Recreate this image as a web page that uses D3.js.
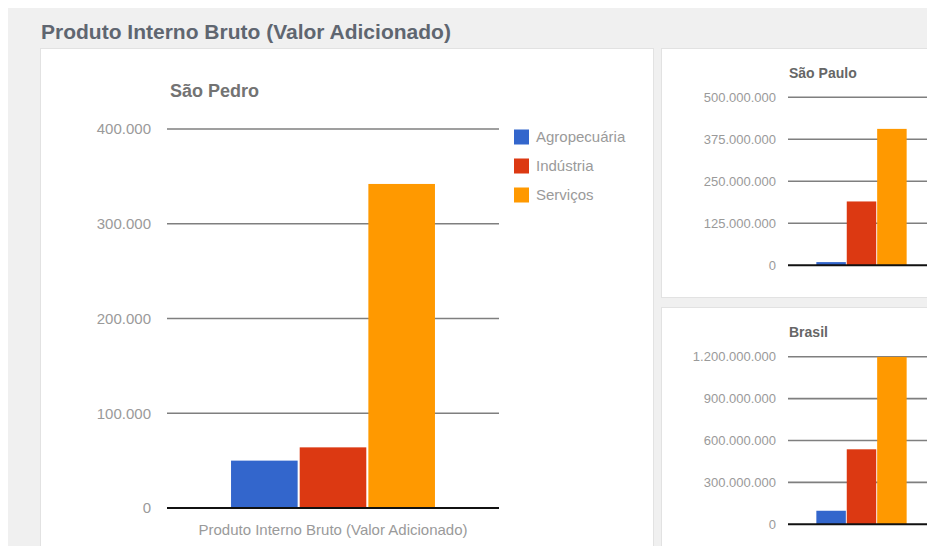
<!DOCTYPE html>
<html>
<head>
<meta charset="utf-8">
<script src="https://cdn.jsdelivr.net/npm/d3@7"></script>
<style>
  html, body { margin: 0; padding: 0; background: #fff; }
  svg { display: block; font-family: Arial, "Liberation Sans", sans-serif; }
</style>
</head>
<body>
<svg id="chart" width="927" height="546"></svg>
<script>
// Sector names and colours
const series = ["Agropecuária", "Indústria", "Serviços"];
const seriesColors = ["#3366cc", "#dc3912", "#ff9900"];
const category = ["Produto Interno Bruto (Valor Adicionado)"];

// Valor adicionado por setor
const saoPedroValues = [50000, 64000, 342000];
const saoPauloValues = [9500000, 190000000, 406000000];
const brasilValues = [97000000, 537000000, 1200000000];

// Axis tick values
const saoPedroTicks = [0, 100000, 200000, 300000, 400000];
const saoPauloTicks = [0, 125000000, 250000000, 375000000, 500000000];
const brasilTicks = [0, 300000000, 600000000, 900000000, 1200000000];

const ptBR = d3.formatLocale({ decimal: ",", thousands: ".", grouping: [3], currency: ["R$", ""] });
const fmt = ptBR.format(",d");

const svg = d3.select("#chart");

// page background and panels
svg.append("rect").attr("x", 8).attr("y", 8).attr("width", 930).attr("height", 550).attr("fill", "#f0f0f0");
svg.append("text")
  .attr("x", 41).attr("y", 38.5)
  .attr("font-size", 21).attr("font-weight", "bold").attr("fill", "#5f6670")
  .text("Produto Interno Bruto (Valor Adicionado)");

const panels = [
  { x: 40.5, y: 48.5, w: 613, h: 520 },
  { x: 661.5, y: 48.5, w: 300, h: 249 },
  { x: 661.5, y: 307.5, w: 300, h: 260 }
];
svg.selectAll("rect.panel").data(panels).join("rect")
  .attr("class", "panel")
  .attr("x", d => d.x).attr("y", d => d.y).attr("width", d => d.w).attr("height", d => d.h)
  .attr("fill", "#fff").attr("stroke", "#e2e2e2").attr("stroke-width", 1);

function drawChart(opt) {
  const g = svg.append("g");
  const y = d3.scaleLinear().domain([0, opt.ticks[opt.ticks.length - 1]]).range([opt.bottom, opt.top]);
  const x0 = d3.scaleBand().domain(category).range([opt.left, opt.right]).paddingOuter(0.314).paddingInner(0);
  const x1 = d3.scaleBand().domain(series).range([0, x0.bandwidth()]).paddingInner(0.03).paddingOuter(0);
  const color = d3.scaleOrdinal().domain(series).range(seriesColors);

  const clipId = "clip-" + opt.id;
  g.append("clipPath").attr("id", clipId).append("rect")
    .attr("x", opt.left).attr("y", opt.top).attr("width", opt.right - opt.left).attr("height", opt.bottom - opt.top);

  // title
  g.append("text")
    .attr("x", opt.titleX).attr("y", opt.titleY)
    .attr("font-size", opt.titleSize).attr("font-weight", "bold").attr("fill", opt.titleColor)
    .text(opt.title);

  // gridlines
  g.selectAll("line.grid").data(opt.ticks.filter(t => t > 0)).join("line")
    .attr("x1", opt.left).attr("x2", opt.right)
    .attr("y1", d => y(d)).attr("y2", d => y(d))
    .attr("stroke", "#7f7f7f").attr("stroke-width", 1.6);

  // tick labels
  g.selectAll("text.tick").data(opt.ticks).join("text")
    .attr("x", opt.left - opt.labelGap).attr("y", d => y(d))
    .attr("dy", "0.35em").attr("text-anchor", "end")
    .attr("font-size", opt.labelSize).attr("fill", "#9a9a9a")
    .text(d => fmt(d));

  // bars
  g.append("g").attr("clip-path", `url(#${clipId})`)
    .selectAll("rect").data(series.map((s, i) => ({ s, v: opt.values[i] }))).join("rect")
    .attr("x", d => x0(category[0]) + x1(d.s))
    .attr("width", x1.bandwidth())
    .attr("y", d => y(d.v))
    .attr("height", d => y(0) - y(d.v))
    .attr("fill", d => color(d.s));

  // baseline
  g.append("line")
    .attr("x1", opt.left).attr("x2", opt.right)
    .attr("y1", y(0)).attr("y2", y(0))
    .attr("stroke", "#111").attr("stroke-width", 2);

  if (opt.categoryLabel) {
    g.append("text")
      .attr("x", x0(category[0]) + x0.bandwidth() / 2).attr("y", opt.bottom + 27)
      .attr("text-anchor", "middle").attr("font-size", 15).attr("fill", "#9a9a9a")
      .text(category[0]);
  }
  return { g, color };
}

const main = drawChart({
  id: "sp", title: "São Pedro", titleX: 170, titleY: 97, titleSize: 18, titleColor: "#737373",
  values: saoPedroValues, ticks: saoPedroTicks,
  left: 167, right: 499, top: 129, bottom: 508,
  labelGap: 16, labelSize: 15, categoryLabel: true
});

// legend
const legend = svg.append("g").selectAll("g").data(series).join("g")
  .attr("transform", (d, i) => `translate(514, ${137 + i * 29})`);
legend.append("rect").attr("x", 0).attr("y", -7.5).attr("width", 15).attr("height", 15)
  .attr("fill", d => main.color(d));
legend.append("text").attr("x", 22).attr("y", 0).attr("dy", "0.35em")
  .attr("font-size", 15).attr("fill", "#9a9a9a").text(d => d);

drawChart({
  id: "spaulo", title: "São Paulo", titleX: 789, titleY: 78, titleSize: 14, titleColor: "#666",
  values: saoPauloValues, ticks: saoPauloTicks,
  left: 788, right: 935, top: 97.3, bottom: 265.3,
  labelGap: 12, labelSize: 13, categoryLabel: false
});

drawChart({
  id: "br", title: "Brasil", titleX: 789, titleY: 337, titleSize: 14, titleColor: "#666",
  values: brasilValues, ticks: brasilTicks,
  left: 788, right: 935, top: 356.7, bottom: 524.3,
  labelGap: 12, labelSize: 13, categoryLabel: false
});
</script>
</body>
</html>
